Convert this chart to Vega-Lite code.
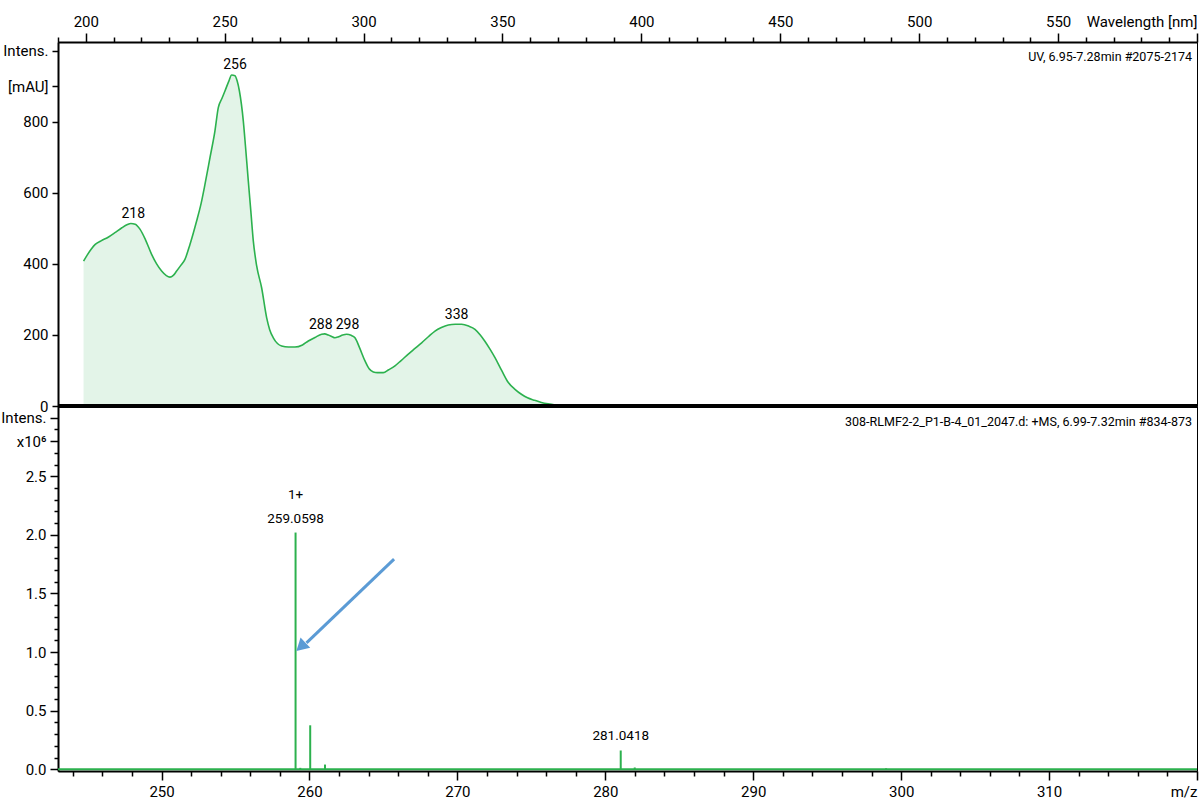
{
  "$schema": "https://vega.github.io/schema/vega-lite/v6.json",
  "padding": {"left": 0, "top": 5, "right": 3, "bottom": 2},
  "spacing": 0,
  "bounds": "flush",
  "background": "white",
  "config": {
    "view": {"stroke": "black", "strokeWidth": 1},
    "axis": {
      "labelFont": "Roboto",
      "labelFontSize": 15,
      "labelColor": "#000",
      "domainColor": "#000",
      "tickColor": "#000",
      "domainWidth": 2,
      "tickWidth": 1.5,
      "grid": false,
      "title": null,
      "labelOverlap": false,
      "tickCount": 200
    },
    "text": {"font": "Roboto", "fontSize": 14, "color": "#000"}
  },
  "datasets": {
    "uv": [
      {"nm": 199.2, "I": 408}, {"nm": 200.5, "I": 425}, {"nm": 202, "I": 442}, {"nm": 203.4, "I": 455},
      {"nm": 205.5, "I": 465}, {"nm": 208.2, "I": 476}, {"nm": 210.5, "I": 488}, {"nm": 213, "I": 502},
      {"nm": 215, "I": 511}, {"nm": 216.2, "I": 514}, {"nm": 217.8, "I": 512}, {"nm": 219.5, "I": 498},
      {"nm": 221.5, "I": 468}, {"nm": 223.7, "I": 427}, {"nm": 225.5, "I": 400}, {"nm": 227.3, "I": 380},
      {"nm": 229, "I": 367}, {"nm": 230.3, "I": 363}, {"nm": 231.5, "I": 368}, {"nm": 232.7, "I": 380},
      {"nm": 234.2, "I": 396}, {"nm": 235.7, "I": 413}, {"nm": 237.5, "I": 455}, {"nm": 239.9, "I": 521},
      {"nm": 241.5, "I": 570}, {"nm": 242.9, "I": 624}, {"nm": 244.7, "I": 699}, {"nm": 246.5, "I": 775},
      {"nm": 247.7, "I": 840}, {"nm": 249, "I": 866}, {"nm": 250.1, "I": 887}, {"nm": 251.5, "I": 915},
      {"nm": 252.5, "I": 932}, {"nm": 253.7, "I": 930}, {"nm": 254.5, "I": 915}, {"nm": 255.3, "I": 887},
      {"nm": 256.7, "I": 803}, {"nm": 257.5, "I": 730}, {"nm": 258.5, "I": 634}, {"nm": 259.4, "I": 550},
      {"nm": 260.3, "I": 465}, {"nm": 261.5, "I": 395}, {"nm": 263.3, "I": 333}, {"nm": 265.1, "I": 249},
      {"nm": 266.2, "I": 215}, {"nm": 267.5, "I": 192}, {"nm": 269, "I": 176}, {"nm": 270.5, "I": 169},
      {"nm": 273, "I": 166}, {"nm": 275.3, "I": 166}, {"nm": 278, "I": 172}, {"nm": 280.1, "I": 183},
      {"nm": 282.5, "I": 193}, {"nm": 284.9, "I": 202}, {"nm": 286, "I": 203}, {"nm": 287.3, "I": 200},
      {"nm": 288.5, "I": 196}, {"nm": 289.7, "I": 192}, {"nm": 291, "I": 195}, {"nm": 292.5, "I": 200},
      {"nm": 293.9, "I": 202}, {"nm": 295.5, "I": 199}, {"nm": 296.9, "I": 192}, {"nm": 298.5, "I": 165},
      {"nm": 300.5, "I": 127}, {"nm": 302, "I": 105}, {"nm": 303.5, "I": 96}, {"nm": 305, "I": 94},
      {"nm": 307.1, "I": 94}, {"nm": 309, "I": 102}, {"nm": 311.3, "I": 113}, {"nm": 313.5, "I": 128},
      {"nm": 316.1, "I": 146}, {"nm": 318.5, "I": 162}, {"nm": 320.9, "I": 178}, {"nm": 323.3, "I": 195},
      {"nm": 325.7, "I": 211}, {"nm": 328, "I": 221}, {"nm": 330.5, "I": 228}, {"nm": 333, "I": 230},
      {"nm": 335.3, "I": 230}, {"nm": 337.8, "I": 225}, {"nm": 340.1, "I": 216}, {"nm": 342, "I": 200},
      {"nm": 343.6, "I": 183}, {"nm": 345.5, "I": 160}, {"nm": 347.3, "I": 136}, {"nm": 349.7, "I": 100},
      {"nm": 352.1, "I": 66}, {"nm": 354.5, "I": 47}, {"nm": 356.8, "I": 33}, {"nm": 359, "I": 23},
      {"nm": 361.6, "I": 16}, {"nm": 364, "I": 10}, {"nm": 366.4, "I": 6}, {"nm": 369, "I": 3},
      {"nm": 372, "I": 1}
    ],
    "uvpeaks": [
      {"nm": 217.1, "I": 514, "label": "218"},
      {"nm": 253.7, "I": 934, "label": "256"},
      {"nm": 284.6, "I": 203, "label": "288"},
      {"nm": 294.2, "I": 203, "label": "298"},
      {"nm": 333.5, "I": 230, "label": "338"}
    ],
    "ms": [
      {"mz": 259.0598, "I": 2.02},
      {"mz": 259.38, "I": 0.012},
      {"mz": 260.05, "I": 0.375},
      {"mz": 261.05, "I": 0.04},
      {"mz": 281.0418, "I": 0.16},
      {"mz": 281.99, "I": 0.015},
      {"mz": 298.98, "I": 0.008}
    ],
    "mslabels": [
      {"mz": 259.0598, "I": 2.02, "label": "259.0598", "charge": "1+"},
      {"mz": 281.0418, "I": 0.16, "label": "281.0418", "charge": ""}
    ],
    "arrow": [
      {"x1": 265.72, "y1": 1.793, "x2": 259.8, "y2": 1.079, "hx": 259.42, "hy": 1.045}
    ]
  },
  "vconcat": [
    {
      "width": 1139,
      "height": 364,
      "layer": [
        {
          "data": {"name": "uv"},
          "mark": {"type": "area", "color": "#E3F4E8", "opacity": 1, "interpolate": "monotone"},
          "encoding": {
            "x": {
              "field": "nm", "type": "quantitative",
              "scale": {"domain": [190, 600], "nice": false, "zero": false},
              "axis": {
                "orient": "top",
                "values": [190, 200, 210, 220, 230, 240, 250, 260, 270, 280, 290, 300, 310, 320, 330, 340, 350, 360, 370, 380, 390, 400, 410, 420, 430, 440, 450, 460, 470, 480, 490, 500, 510, 520, 530, 540, 550, 560, 570, 580, 590, 600],
                "tickCount": 200,
                "labelExpr": "datum.value === 600 ? 'Wavelength [nm]' : (datum.value % 50 === 0 ? format(datum.value, 'd') : '')",
                "labelFlush": true,
                "labelOverlap": false,
                "tickSize": {"condition": {"test": "datum.value % 50 === 0", "value": 9}, "value": 5},
                "labelPadding": 4,
                "minExtent": 36,
                "maxExtent": 36
              }
            },
            "y": {
              "field": "I", "type": "quantitative",
              "scale": {"domain": [0, 1025], "nice": false},
              "axis": {
                "values": [0, 200, 400, 600, 800, 900, 1000],
                "tickCount": 200,
                "labelExpr": "datum.value === 1000 ? 'Intens.' : (datum.value === 900 ? '[mAU]' : format(datum.value, 'd'))",
                "labelOverlap": false,
                "tickSize": 6,
                "labelPadding": 4,
                "minExtent": 52,
                "maxExtent": 52
              }
            }
          }
        },
        {
          "data": {"name": "uv"},
          "mark": {"type": "line", "color": "#2CB14E", "strokeWidth": 1.6, "interpolate": "monotone"},
          "encoding": {
            "x": {"field": "nm", "type": "quantitative"},
            "y": {"field": "I", "type": "quantitative"}
          }
        },
        {
          "data": {"name": "uvpeaks"},
          "mark": {"type": "text", "baseline": "bottom", "dy": -2, "fontSize": 14},
          "encoding": {
            "x": {"field": "nm", "type": "quantitative"},
            "y": {"field": "I", "type": "quantitative"},
            "text": {"field": "label"}
          }
        },
        {
          "data": {"values": [{"t": "UV, 6.95-7.28min #2075-2174"}]},
          "mark": {"type": "text", "align": "right", "baseline": "middle", "dx": -5, "fontSize": 12.5},
          "encoding": {
            "x": {"datum": 600},
            "y": {"datum": 982},
            "text": {"field": "t"}
          }
        },
        {
          "data": {"values": [{"z": 0}]},
          "mark": {"type": "rule", "color": "black", "strokeWidth": 4},
          "encoding": {"y": {"field": "z", "type": "quantitative"}}
        }
      ]
    },
    {
      "width": 1139,
      "height": 365,
      "layer": [
        {
          "data": {"values": [{"z": 0}]},
          "mark": {"type": "rule", "color": "#2CB14E", "strokeWidth": 2},
          "encoding": {
            "y": {
              "field": "z", "type": "quantitative",
              "scale": {"domain": [-0.015, 3.1], "nice": false, "zero": false},
              "axis": {
                "values": [0, 0.1, 0.2, 0.3, 0.4, 0.5, 0.6, 0.7, 0.8, 0.9, 1, 1.1, 1.2, 1.3, 1.4, 1.5, 1.6, 1.7, 1.8, 1.9, 2, 2.1, 2.2, 2.3, 2.4, 2.5, 2.6, 2.7, 2.8, 2.9, 3],
                "tickCount": 200,
                "labelExpr": "abs(datum.value - 3) < 1e-6 ? 'Intens.' : (abs(datum.value - 2.8) < 1e-6 ? 'x10⁶' : (abs(datum.value * 2 - round(datum.value * 2)) < 1e-6 ? format(datum.value, '.1f') : ''))",
                "labelOverlap": false,
                "tickSize": {"condition": {"test": "abs(datum.value * 2 - round(datum.value * 2)) < 1e-6 || abs(datum.value - 2.8) < 1e-6", "value": 8}, "value": 4},
                "labelPadding": 4,
                "minExtent": 52,
                "maxExtent": 52
              }
            }
          }
        },
        {
          "data": {"name": "ms"},
          "mark": {"type": "rule", "color": "#2CB14E", "strokeWidth": 2},
          "encoding": {
            "x": {
              "field": "mz", "type": "quantitative",
              "scale": {"domain": [243, 320], "nice": false, "zero": false},
              "axis": {
                "values": [244, 246, 248, 250, 252, 254, 256, 258, 260, 262, 264, 266, 268, 270, 272, 274, 276, 278, 280, 282, 284, 286, 288, 290, 292, 294, 296, 298, 300, 302, 304, 306, 308, 310, 312, 314, 316, 318, 320],
                "tickCount": 200,
                "labelExpr": "datum.value === 320 ? 'm/z' : (datum.value % 10 === 0 ? format(datum.value, 'd') : '')",
                "labelFlush": true,
                "labelOverlap": false,
                "tickSize": {"condition": {"test": "datum.value % 10 === 0", "value": 9}, "value": 5},
                "labelPadding": 4,
                "minExtent": 30,
                "maxExtent": 30
              }
            },
            "y": {"field": "I", "type": "quantitative"},
            "y2": {"datum": 0}
          }
        },
        {
          "data": {"name": "mslabels"},
          "mark": {"type": "text", "baseline": "bottom", "dy": -7, "fontSize": 13.5},
          "encoding": {
            "x": {"field": "mz", "type": "quantitative"},
            "y": {"field": "I", "type": "quantitative"},
            "text": {"field": "label"}
          }
        },
        {
          "data": {"name": "mslabels"},
          "mark": {"type": "text", "baseline": "bottom", "dy": -31, "fontSize": 13.5},
          "encoding": {
            "x": {"field": "mz", "type": "quantitative"},
            "y": {"field": "I", "type": "quantitative"},
            "text": {"field": "charge"}
          }
        },
        {
          "data": {"name": "arrow"},
          "mark": {"type": "rule", "color": "#5B9BD5", "strokeWidth": 3},
          "encoding": {
            "x": {"field": "x1", "type": "quantitative"},
            "y": {"field": "y1", "type": "quantitative"},
            "x2": {"field": "x2"},
            "y2": {"field": "y2"}
          }
        },
        {
          "data": {"name": "arrow"},
          "mark": {"type": "point", "shape": "triangle-up", "filled": true, "color": "#5B9BD5", "opacity": 1, "size": 200, "angle": 227},
          "encoding": {
            "x": {"field": "hx", "type": "quantitative"},
            "y": {"field": "hy", "type": "quantitative"}
          }
        },
        {
          "data": {"values": [{"t": "308-RLMF2-2_P1-B-4_01_2047.d: +MS, 6.99-7.32min #834-873"}]},
          "mark": {"type": "text", "align": "right", "baseline": "middle", "dx": -5, "fontSize": 12.5},
          "encoding": {
            "x": {"datum": 320},
            "y": {"datum": 2.965},
            "text": {"field": "t"}
          }
        }
      ]
    }
  ]
}
